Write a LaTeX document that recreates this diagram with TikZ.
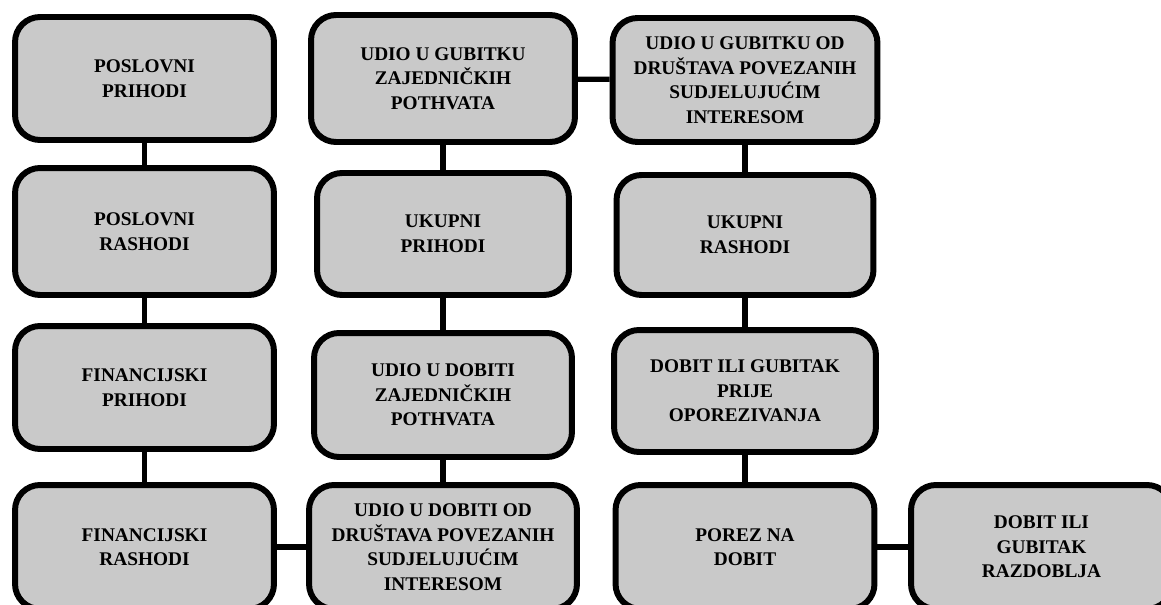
\documentclass[tikz,border=0pt]{standalone}
\usepackage{fontspec}
\setmainfont{Liberation Serif}
\definecolor{boxgray}{RGB}{201,201,201}

\begin{document}
\begin{tikzpicture}[x=0.02cm, y=-0.02cm,
    box/.style={draw=black, line width=3.4pt, rounded corners=0.5cm, fill=boxgray,
      align=center, inner sep=2pt, font=\bfseries\fontsize{11}{14}\selectfont},
    link/.style={line width=3pt}]
    \useasboundingbox (0,0) rectangle (1161,605);
    \clip (0,0) rectangle (1161,605);

    % Column 1
    \node[box, minimum width=5.18cm, minimum height=2.46cm] (posPri) at (144.5,78.5) {POSLOVNI\\PRIHODI};
    \node[box, minimum width=5.18cm, minimum height=2.54cm] (posRas) at (144.5,231.5) {POSLOVNI\\RASHODI};
    \node[box, minimum width=5.18cm, minimum height=2.46cm] (finPri) at (144.5,387.5) {FINANCIJSKI\\PRIHODI};
    \node[box, minimum width=5.18cm, minimum height=2.48cm] (finRas) at (144.5,547) {FINANCIJSKI\\RASHODI};

    % Column 2
    \node[box, minimum width=5.28cm, minimum height=2.54cm] (gubZaj) at (443,78.5) {UDIO U GUBITKU\\ZAJEDNIČKIH\\POTHVATA};
    \node[box, minimum width=5.04cm, minimum height=2.44cm] (ukPri) at (443,234) {UKUPNI\\PRIHODI};
    \node[box, minimum width=5.16cm, minimum height=2.48cm] (dobZaj) at (443,395) {UDIO U DOBITI\\ZAJEDNIČKIH\\POTHVATA};
    \node[box, minimum width=5.36cm, minimum height=2.48cm] (dobDru) at (443,547) {UDIO U DOBITI OD\\DRUŠTAVA POVEZANIH\\SUDJELUJUĆIM\\INTERESOM};

    % Column 3
    \node[box, minimum width=5.30cm, minimum height=2.48cm] (gubDru) at (745,80) {UDIO U GUBITKU OD\\DRUŠTAVA POVEZANIH\\SUDJELUJUĆIM\\INTERESOM};
    \node[box, minimum width=5.14cm, minimum height=2.40cm] (ukRas) at (745,235) {UKUPNI\\RASHODI};
    \node[box, minimum width=5.24cm, minimum height=2.44cm] (prijeOpor) at (745,391) {DOBIT ILI GUBITAK\\PRIJE\\OPOREZIVANJA};
    \node[box, minimum width=5.18cm, minimum height=2.48cm] (porez) at (745,547) {POREZ NA\\DOBIT};

    % Column 4
    \node[box, minimum width=5.22cm, minimum height=2.48cm] (razd) at (1041.5,547) {DOBIT ILI\\GUBITAK\\RAZDOBLJA};

    % Connectors
    \draw[link] (posPri) -- (posRas);
    \draw[link] (posRas) -- (finPri);
    \draw[link] (finPri) -- (finRas);
    \draw[link] (finRas) -- (dobDru);
    \draw[link] (dobDru) -- (dobZaj);
    \draw[link] (dobZaj) -- (ukPri);
    \draw[link] (ukPri) -- (gubZaj);
    \draw[link] (gubZaj) -- (gubDru);
    \draw[link] (gubDru) -- (ukRas);
    \draw[link] (ukRas) -- (prijeOpor);
    \draw[link] (prijeOpor) -- (porez);
    \draw[link] (porez) -- (razd);
\end{tikzpicture}
\end{document}
